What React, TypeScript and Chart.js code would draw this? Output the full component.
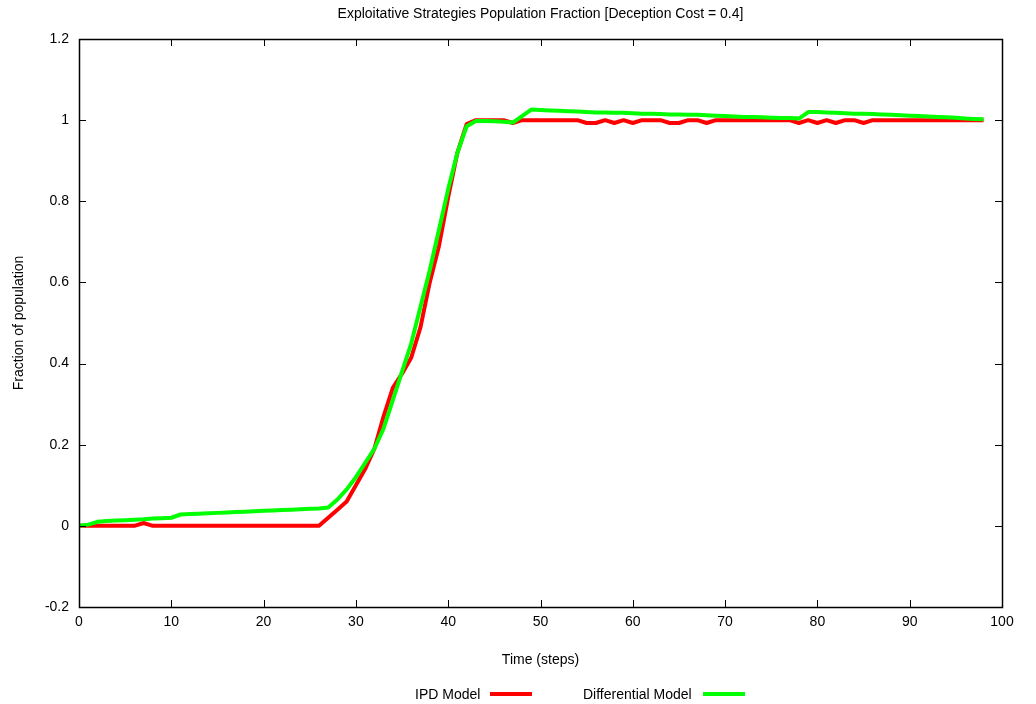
import React, { useEffect, useRef } from "react";
import { Chart, registerables } from "chart.js";

Chart.register(...registerables);

const steps = [
  0, 1, 2, 3, 4, 5, 6, 7, 8, 9, 10, 11, 12, 13, 14, 15, 16, 17, 18, 19,
  20, 21, 22, 23, 24, 25, 26, 27, 28, 29, 30, 31, 32, 33, 34, 35, 36, 37, 38, 39,
  40, 41, 42, 43, 44, 45, 46, 47, 48, 49, 50, 51, 52, 53, 54, 55, 56, 57, 58, 59,
  60, 61, 62, 63, 64, 65, 66, 67, 68, 69, 70, 71, 72, 73, 74, 75, 76, 77, 78, 79,
  80, 81, 82, 83, 84, 85, 86, 87, 88, 89, 90, 91, 92, 93, 94, 95, 96, 97, 98,
];

const ipdModel = [
  0, 0, 0, 0, 0, 0, 0, 0.007, 0, 0, 0, 0, 0, 0, 0, 0, 0, 0, 0, 0,
  0, 0, 0, 0, 0, 0, 0, 0.02, 0.04, 0.06, 0.1, 0.14, 0.19, 0.27, 0.34, 0.375, 0.415, 0.49, 0.6, 0.69,
  0.81, 0.92, 0.99, 1.0, 1.0, 1.0, 1.0, 0.993, 1.0, 1.0, 1.0, 1.0, 1.0, 1.0, 1.0, 0.993, 0.993, 1.0, 0.993, 1.0,
  0.993, 1.0, 1.0, 1.0, 0.993, 0.993, 1.0, 1.0, 0.993, 1.0, 1.0, 1.0, 1.0, 1.0, 1.0, 1.0, 1.0, 1.0, 0.993, 1.0,
  0.993, 1.0, 0.993, 1.0, 1.0, 0.993, 1.0, 1.0, 1.0, 1.0, 1.0, 1.0, 1.0, 1.0, 1.0, 1.0, 1.0, 1.0, 1.0,
];

const differentialModel = [
  0, 0.003, 0.01, 0.012, 0.013, 0.014, 0.015, 0.016, 0.018, 0.019, 0.02, 0.028, 0.029, 0.03, 0.031, 0.032, 0.033, 0.034, 0.035, 0.036,
  0.037, 0.038, 0.039, 0.04, 0.041, 0.042, 0.043, 0.045, 0.065, 0.09, 0.12, 0.155, 0.19, 0.24, 0.31, 0.38, 0.45, 0.54, 0.63, 0.73,
  0.83, 0.92, 0.985, 0.998, 0.998, 0.997, 0.996, 0.994, 1.01, 1.026, 1.025, 1.024, 1.023, 1.022, 1.021, 1.02, 1.019, 1.019, 1.018, 1.018,
  1.017, 1.016, 1.016, 1.015, 1.014, 1.014, 1.013, 1.013, 1.012, 1.011, 1.01, 1.009, 1.008, 1.008, 1.007, 1.006, 1.005, 1.005, 1.004, 1.02,
  1.02, 1.019, 1.018, 1.017, 1.016, 1.016, 1.015, 1.014, 1.013, 1.012, 1.011, 1.01, 1.009, 1.008, 1.007, 1.006, 1.004, 1.003, 1.002,
];

const seriesNames = ["IPD Model", "Differential Model"];
const seriesColors = ["#ff0000", "#00ff00"];

const titleText = "Exploitative Strategies Population Fraction [Deception Cost = 0.4]";
const xTitle = "Time (steps)";
const yTitle = "Fraction of population";

const FONT = "'Liberation Sans', Arial, Helvetica, sans-serif";
const FS = 14;

const framePlugin = {
  id: "frameTicks",
  afterDraw(chart: any) {
    const { ctx, chartArea } = chart;
    const { left, right, top, bottom } = chartArea;
    const len = 7;
    ctx.save();
    ctx.strokeStyle = "#000";
    ctx.lineWidth = 1;
    ctx.beginPath();
    const xs = chart.scales.x;
    xs.ticks.forEach((t: any) => {
      const px = Math.round(xs.getPixelForValue(t.value)) + 0.5;
      ctx.moveTo(px, bottom);
      ctx.lineTo(px, bottom - len);
      ctx.moveTo(px, top);
      ctx.lineTo(px, top + len);
    });
    const ys = chart.scales.y;
    ys.ticks.forEach((t: any) => {
      const py = Math.round(ys.getPixelForValue(t.value)) + 0.5;
      ctx.moveTo(left, py);
      ctx.lineTo(left + len, py);
      ctx.moveTo(right, py);
      ctx.lineTo(right - len, py);
    });
    ctx.stroke();
    ctx.lineWidth = 1.5;
    ctx.strokeRect(Math.round(left) + 0.5, Math.round(top) + 0.5, Math.round(right - left), Math.round(bottom - top));
    ctx.restore();
  },
};

export default function App() {
  const ref = useRef<HTMLCanvasElement | null>(null);

  useEffect(() => {
    if (!ref.current) return;
    Chart.defaults.font.family = FONT;
    Chart.defaults.color = "#000";
    const mk = (vals: number[]) => steps.map((s, i) => ({ x: s, y: vals[i] }));
    const chart = new Chart(ref.current, {
      type: "line",
      data: {
        datasets: [
          {
            label: seriesNames[0],
            data: mk(ipdModel),
            borderColor: seriesColors[0],
            backgroundColor: seriesColors[0],
            borderWidth: 4,
            pointRadius: 0,
            tension: 0,
            borderJoinStyle: "round",
            order: 1,
          },
          {
            label: seriesNames[1],
            data: mk(differentialModel),
            borderColor: seriesColors[1],
            backgroundColor: seriesColors[1],
            borderWidth: 4,
            pointRadius: 0,
            tension: 0,
            borderJoinStyle: "round",
            order: 0,
          },
        ],
      },
      options: {
        animation: false,
        responsive: false,
        events: [],
        layout: { padding: { left: 0, right: 34, top: 0, bottom: 0 } },
        plugins: {
          legend: { display: false },
          tooltip: { enabled: false },
          title: {
            display: true,
            text: titleText,
            fullSize: false,
            color: "#000",
            font: { size: FS, weight: "normal", family: FONT },
            padding: { top: 5.6, bottom: 16.6 },
          },
        },
        scales: {
          x: {
            type: "linear",
            min: 0,
            max: 100,
            grid: { display: false, drawTicks: false },
            border: { display: false },
            ticks: { stepSize: 10, padding: 7, font: { size: FS }, color: "#000", maxRotation: 0 },
            title: { display: true, text: xTitle, font: { size: FS }, color: "#000", padding: { top: 0, bottom: 35.6 } },
            afterFit: (s: any) => {
              s.height = 97;
            },
          },
          y: {
            type: "linear",
            min: -0.2,
            max: 1.2,
            grid: { display: false, drawTicks: false },
            border: { display: false },
            ticks: {
              stepSize: 0.2,
              padding: 10,
              font: { size: FS },
              color: "#000",
              callback: (v: any) => String(Math.round(Number(v) * 10) / 10),
            },
            title: { display: true, text: yTitle, font: { size: FS }, color: "#000", padding: { top: 10.6, bottom: 0 } },
            afterFit: (s: any) => {
              s.width = 79;
            },
          },
        },
      },
      plugins: [framePlugin],
    });
    return () => chart.destroy();
  }, []);

  const legendText: React.CSSProperties = {
    position: "absolute",
    top: 686,
    height: 16,
    lineHeight: "16px",
    fontSize: FS,
    fontFamily: FONT,
    color: "#000",
    whiteSpace: "nowrap",
  };

  return (
    <div style={{ position: "absolute", left: 0, top: 0, width: 1036, height: 704, background: "#fff" }}>
      <canvas ref={ref} width={1036} height={704} style={{ display: "block", width: 1036, height: 704 }} />
      <div style={{ ...legendText, left: 415 }}>{seriesNames[0]}</div>
      <div style={{ position: "absolute", left: 490, top: 692, width: 42, height: 4, background: seriesColors[0] }} />
      <div style={{ ...legendText, left: 583 }}>{seriesNames[1]}</div>
      <div style={{ position: "absolute", left: 703, top: 692, width: 42, height: 4, background: seriesColors[1] }} />
    </div>
  );
}
